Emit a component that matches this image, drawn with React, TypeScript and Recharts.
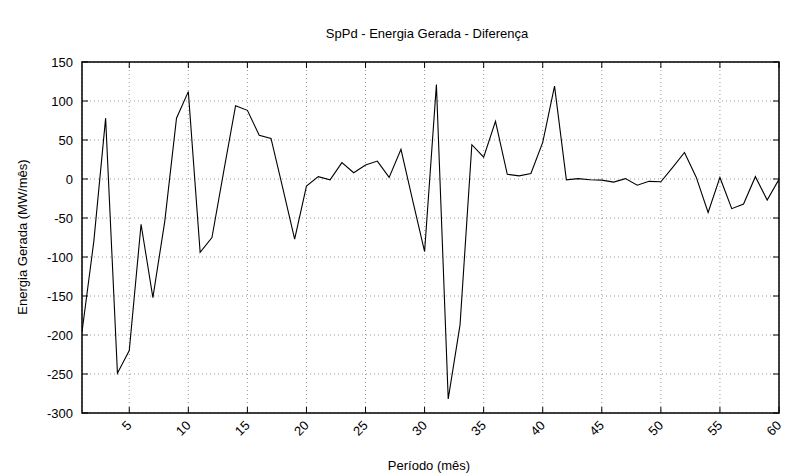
import React from "react";
import { LineChart, Line, XAxis, YAxis, CartesianGrid } from "recharts";

// Período (mês)
const periods = [
  1, 2, 3, 4, 5, 6, 7, 8, 9, 10, 11, 12, 13, 14, 15, 16, 17, 18, 19, 20,
  21, 22, 23, 24, 25, 26, 27, 28, 29, 30, 31, 32, 33, 34, 35, 36, 37, 38, 39, 40,
  41, 42, 43, 44, 45, 46, 47, 48, 49, 50, 51, 52, 53, 54, 55, 56, 57, 58, 59, 60,
];

// Energia Gerada - Diferença (MW/mês)
const diferenca = [
  -196, -80, 78, -249, -220, -58, -152, -55, 78, 112,
  -94, -75, 10, 94, 88, 56, 52, -12, -77, -9,
  3, -1, 21, 8, 18, 23, 2, 38, -28, -93,
  121, -282, -187, 44, 28, 74, 6, 4, 7, 47,
  119, -1, 0.5, -1, -1.5, -4, 0.5, -8, -3, -3.5,
  15, 34, 2, -43, 2, -38, -32, 3, -27, -0.5,
];

const xTicks = [5, 10, 15, 20, 25, 30, 35, 40, 45, 50, 55, 60];
const yTicks = [-300, -250, -200, -150, -100, -50, 0, 50, 100, 150];

const data = periods.map((p, i) => ({ periodo: p, diferenca: diferenca[i] }));

const FONT = '"Liberation Sans", Arial, Helvetica, sans-serif';
const W = 791;
const H = 476;
// plot box (layout only)
const PLOT = { left: 82, top: 62, right: 779, bottom: 413 };
const TICK = 6;

function BottomTick(props: any) {
  const { x, payload } = props;
  const ty = PLOT.bottom + 10;
  return (
    <g>
      <path d={`M${x},${PLOT.bottom}V${PLOT.bottom - TICK}M${x},${PLOT.top}V${PLOT.top + TICK}`} stroke="#000" strokeWidth={1} fill="none" />
      <text
        x={x}
        y={ty}
        textAnchor="end"
        dominantBaseline="central"
        transform={`rotate(-45 ${x} ${ty})`}
        fontSize={13}
        fontFamily={FONT}
        fill="#000"
        stroke="none"
      >
        {payload.value}
      </text>
    </g>
  );
}

function LeftTick(props: any) {
  const { y, payload } = props;
  return (
    <g>
      <path d={`M${PLOT.left},${y}H${PLOT.left + TICK}M${PLOT.right},${y}H${PLOT.right - TICK}`} stroke="#000" strokeWidth={1} fill="none" />
      <text
        x={PLOT.left - 9}
        y={y}
        textAnchor="end"
        dominantBaseline="central"
        fontSize={13}
        fontFamily={FONT}
        fill="#000"
        stroke="none"
      >
        {payload.value}
      </text>
    </g>
  );
}

export default function App() {
  return (
    <div style={{ position: "absolute", left: 0, top: 0, width: W, height: H, background: "#fff" }}>
      <LineChart
        width={W}
        height={H}
        data={data}
        margin={{ top: PLOT.top, right: W - PLOT.right, bottom: H - PLOT.bottom - 50, left: 0 }}
      >
        <CartesianGrid stroke="#999" strokeDasharray="1 3" />
        <XAxis
          dataKey="periodo"
          type="number"
          domain={[1, 60]}
          ticks={xTicks}
          interval={0}
          height={50}
          tickLine={false}
          axisLine={false}
          tick={BottomTick}
          allowDataOverflow
        />
        <YAxis
          type="number"
          domain={[-300, 150]}
          ticks={yTicks}
          interval={0}
          width={PLOT.left}
          tickLine={false}
          axisLine={false}
          tick={LeftTick}
          allowDataOverflow
        />
        <Line
          type="linear"
          dataKey="diferenca"
          stroke="#000"
          strokeWidth={1.1}
          dot={false}
          activeDot={false}
          isAnimationActive={false}
        />
      </LineChart>
      <svg
        width={W}
        height={H}
        style={{ position: "absolute", left: 0, top: 0, pointerEvents: "none" }}
      >
        <rect
          x={PLOT.left}
          y={PLOT.top}
          width={PLOT.right - PLOT.left}
          height={PLOT.bottom - PLOT.top}
          fill="none"
          stroke="#000"
          strokeWidth={1.5}
        />
        <text x={427} y={33} textAnchor="middle" dominantBaseline="central" fontSize={13} fontFamily={FONT} fill="#000">
          SpPd - Energia Gerada - Diferença
        </text>
        <text
          x={22}
          y={237}
          textAnchor="middle"
          dominantBaseline="central"
          transform="rotate(-90 22 237)"
          fontSize={13}
          fontFamily={FONT}
          fill="#000"
        >
          Energia Gerada (MW/mês)
        </text>
        <text x={429} y={465} textAnchor="middle" dominantBaseline="central" fontSize={13} fontFamily={FONT} fill="#000">
          Período (mês)
        </text>
      </svg>
    </div>
  );
}
